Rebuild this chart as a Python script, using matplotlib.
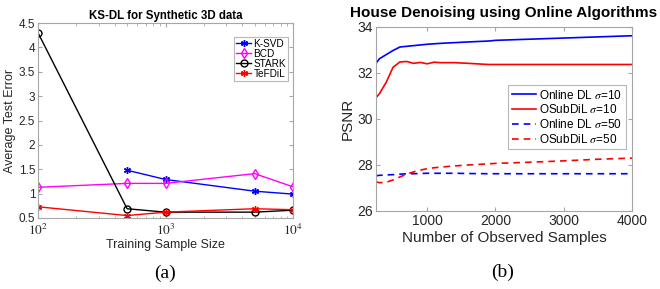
import matplotlib
matplotlib.use("Agg")
import matplotlib.pyplot as plt
from matplotlib.ticker import LogLocator, NullFormatter, FixedLocator

# ---- Panel (a) data ----
sizes = [100, 500, 1000, 5000, 10000]
ksvd_x = [500, 1000, 5000, 10000]
ksvd = [1.48, 1.29, 1.05, 0.99]
bcd = [1.13, 1.21, 1.21, 1.41, 1.14]
stark = [4.30, 0.69, 0.62, 0.62, 0.66]
tefdil = [0.73, 0.55, 0.62, 0.69, 0.67]

# ---- Panel (b) data ----
x_obs = [250, 300, 400, 500, 600, 700, 800, 900, 1000, 1100, 1200, 1400,
         1600, 1900, 2000, 2500, 3000, 3500, 4000]
online10 = [32.42, 32.62, 32.80, 32.98, 33.13, 33.16, 33.19, 33.22, 33.25, 33.27,
            33.29, 33.32, 33.35, 33.39, 33.42, 33.47, 33.52, 33.57, 33.62]
osub10 = [30.92, 31.10, 31.60, 32.25, 32.48, 32.50, 32.42, 32.46, 32.40, 32.47,
          32.45, 32.45, 32.42, 32.37, 32.37, 32.37, 32.37, 32.37, 32.37]
online50 = [27.53, 27.55, 27.57, 27.58, 27.60, 27.62, 27.62, 27.63, 27.64, 27.64,
            27.64, 27.64, 27.63, 27.62, 27.62, 27.62, 27.62, 27.62, 27.62]
osub50 = [27.27, 27.23, 27.25, 27.35, 27.48, 27.60, 27.70, 27.78, 27.84, 27.88,
          27.91, 27.96, 28.00, 28.05, 28.07, 28.12, 28.18, 28.25, 28.30]

plt.rcParams['font.family'] = ['Liberation Sans', 'DejaVu Sans']
plt.rcParams['mathtext.fontset'] = 'stix'

W, H = 660, 289
fig = plt.figure(figsize=(W / 100, H / 100), dpi=100)

spine_c = '#a6a6a6'
text_c = '#262626'
ast = (6, 2, 0)


def px_axes(l, t, r, b):
    return fig.add_axes([l / W, 1 - b / H, (r - l) / W, (b - t) / H])


def style(ax, fs):
    for s in ax.spines.values():
        s.set_color(spine_c)
        s.set_linewidth(0.8)
    ax.tick_params(which='both', direction='in', top=True, right=True,
                   color=spine_c, labelcolor=text_c, labelsize=fs, pad=2)
    ax.tick_params(which='major', length=3)
    ax.tick_params(which='minor', length=1.8)


# ---- Panel (a) ----
ax1 = px_axes(38, 23, 293, 218)
ax1.plot(ksvd_x, ksvd, '-', marker=ast, color='blue', lw=1, ms=5, mew=1.0, label='K-SVD')
ax1.plot(sizes, bcd, '-d', color='magenta', lw=1, ms=5, mfc='none', label='BCD')
ax1.plot(sizes, stark, '-o', color='black', lw=1, ms=5, mfc='none', label='STARK')
ax1.plot(sizes, tefdil, '-', marker=ast, color='red', lw=1, ms=5, mew=1.0, label='TeFDiL')
ax1.set_xscale('log')
ax1.set_xlim(100, 10000)
ax1.set_ylim(0.5, 4.5)
ax1.yaxis.set_major_locator(FixedLocator([0.5, 1, 1.5, 2, 2.5, 3, 3.5, 4, 4.5]))
ax1.set_yticklabels(['0.5', '1', '1.5', '2', '2.5', '3', '3.5', '4', '4.5'])
ax1.xaxis.set_major_locator(FixedLocator([100, 1000, 10000]))
ax1.set_xticklabels(['$10^2$', '$10^3$', '$10^4$'])
ax1.xaxis.set_minor_locator(LogLocator(base=10, subs=range(2, 10)))
ax1.xaxis.set_minor_formatter(NullFormatter())
style(ax1, 8.5)
ax1.tick_params(axis='x', labelsize=9.5, pad=3.5)
ax1.set_xlabel('Training Sample Size', fontsize=9, color=text_c, labelpad=1)
ax1.set_ylabel('Average Test Error', fontsize=9, color=text_c, labelpad=2)
ax1.set_title('KS-DL for Synthetic 3D data', fontsize=8.3, fontweight='bold',
              color='black', pad=3)
leg1 = ax1.legend(loc='upper right', bbox_to_anchor=(0.98, 0.93), fontsize=7.2,
                  frameon=True, fancybox=False, edgecolor=spine_c, borderpad=0.2,
                  labelspacing=0.0, handlelength=1.5, handletextpad=0.2,
                  borderaxespad=0)
leg1.get_frame().set_linewidth(0.8)

# ---- Panel (b) ----
ax2 = px_axes(376, 27, 632, 211)
ax2.plot(x_obs, online10, '-', color='blue', lw=1.2, label=r'Online DL $\sigma$=10')
ax2.plot(x_obs, osub10, '-', color='red', lw=1.2, label=r'OSubDiL $\sigma$=10')
ax2.plot(x_obs, online50, '--', color='blue', lw=1.2, dashes=(4, 3),
         label=r'Online DL $\sigma$=50')
ax2.plot(x_obs, osub50, '--', color='red', lw=1.2, dashes=(4, 3),
         label=r'OSubDiL $\sigma$=50')
ax2.set_xlim(250, 4000)
ax2.set_ylim(26, 34)
ax2.set_xticks([1000, 2000, 3000, 4000])
ax2.set_yticks([26, 28, 30, 32, 34])
style(ax2, 10)
ax2.set_xlabel('Number of Observed Samples', fontsize=11, color=text_c, labelpad=2)
ax2.set_ylabel('PSNR', fontsize=11, color=text_c, labelpad=2)
ax2.set_title('House Denoising using Online Algorithms', fontsize=11,
              fontweight='bold', color='black', pad=7)
leg2 = ax2.legend(loc='center right', bbox_to_anchor=(0.975, 0.51), fontsize=8.5,
                  frameon=True, fancybox=False, edgecolor=spine_c, borderpad=0.3,
                  labelspacing=0.15, handlelength=2.0, handletextpad=0.3,
                  borderaxespad=0)
leg2.get_frame().set_linewidth(0.8)

# ---- captions ----
fig.text(165 / W, 1 - 273 / H, '(a)', ha='center', va='center',
         fontsize=14, family='Liberation Serif')
fig.text(503 / W, 1 - 272 / H, '(b)', ha='center', va='center',
         fontsize=14, family='Liberation Serif')

fig.savefig('out.png', dpi=100)
